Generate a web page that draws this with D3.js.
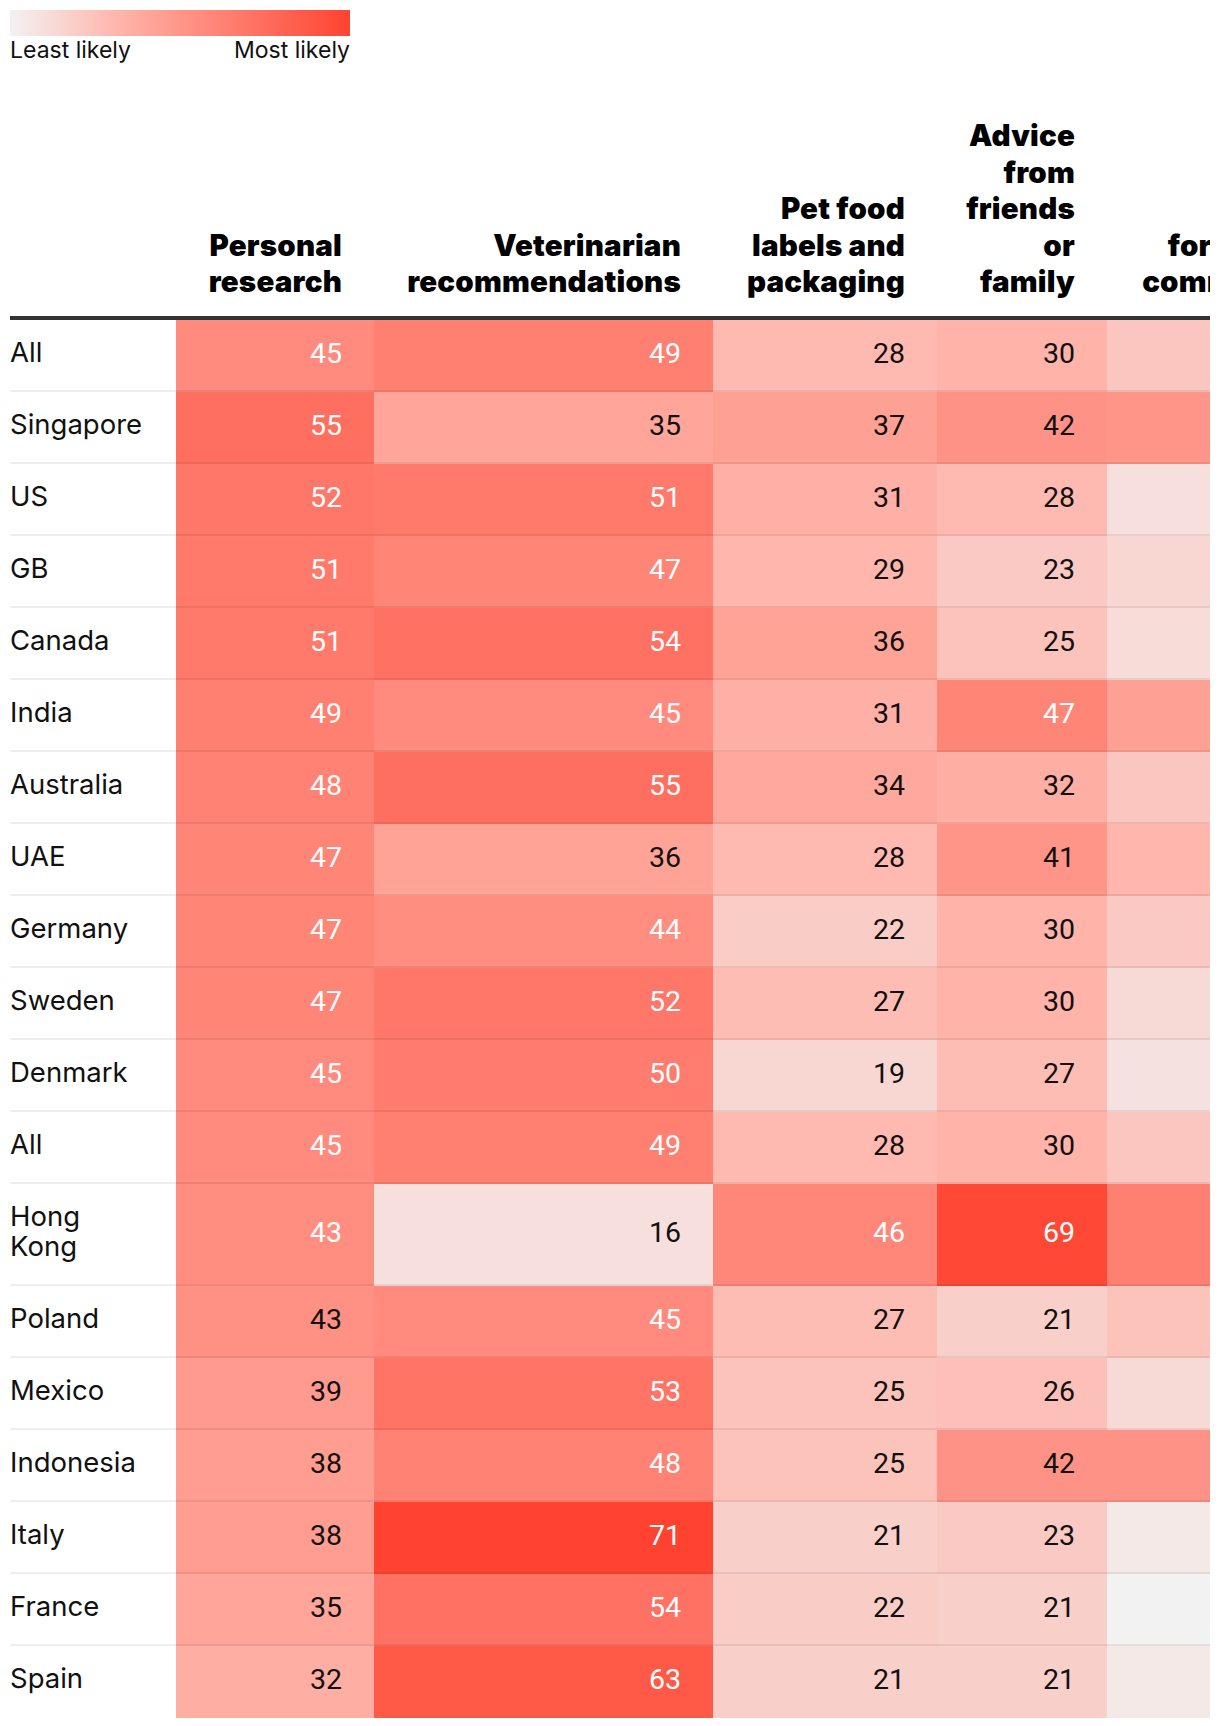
<!DOCTYPE html>
<html>
<head>
<meta charset="utf-8">
<script src="https://cdn.jsdelivr.net/npm/d3@7"></script>
<style>
  body { margin: 0; background: #fff; }
  svg { display: block; }
</style>
</head>
<body>
<div id="chart"></div>
<script>
// Row labels (multi-line where the original wraps)
const countries = [
  ['All'], ['Singapore'], ['US'], ['GB'], ['Canada'], ['India'], ['Australia'],
  ['UAE'], ['Germany'], ['Sweden'], ['Denmark'], ['All'], ['Hong', 'Kong'],
  ['Poland'], ['Mexico'], ['Indonesia'], ['Italy'], ['France'], ['Spain']
];

// Column headers, one entry per line
const headers = [
  ['Personal', 'research'],
  ['Veterinarian', 'recommendations'],
  ['Pet food', 'labels and', 'packaging'],
  ['Advice', 'from', 'friends', 'or', 'family'],
  ['Online', 'pet', 'owner', 'forums and', 'communities']
];

// Values per column (share %)
const personalResearch = [45, 55, 52, 51, 51, 49, 48, 47, 47, 47, 45, 45, 43.4, 42.6, 39, 38, 38, 35, 32];
const vetRecommendations = [49, 35, 51, 47, 54, 45, 55, 36, 44, 52, 50, 49, 16, 45, 53, 48, 71, 54, 63];
const petFoodLabels = [28, 37, 31, 29, 36, 31, 34, 28, 22, 27, 19, 28, 46, 27, 25, 25, 21, 22, 21];
const friendsAdvice = [30, 42, 28, 23, 25, 47, 32, 41, 30, 30, 27, 30, 69, 21, 26, 42, 23, 21, 21];
const onlineForums = [24, 41, 16, 19, 17, 37, 24, 29, 23, 18, 15, 24, 49, 25, 18, 42, 13, 10, 13];

const series = [personalResearch, vetRecommendations, petFoodLabels, friendsAdvice, onlineForums];

const legendLabels = ['Least likely', 'Most likely'];

// ---- layout ----
const width = 1220, height = 1726;
const clipRight = 1210;
const tableLeft = 10;
const headerBottom = 320;     // bottom of thick rule
const lineH = 30;
const colEdges = [176, 374, 713, 937, 1107, 1371];
const padRight = 32;

const svg = d3.select('#chart').append('svg')
  .attr('width', width)
  .attr('height', height);

// colour scale
const color = d3.scaleLinear()
  .domain([10, 30, 71])
  .range(['#f2f2f2', '#ffb3a9', '#ff4330'])
  .clamp(true);

// ---- legend ----
const defs = svg.append('defs');
const grad = defs.append('linearGradient').attr('id', 'legend-grad');
const [lo, hi] = [color.domain()[0], color.domain()[2]];
d3.range(0, 1.0001, 0.1).forEach(t => {
  grad.append('stop')
    .attr('offset', t)
    .attr('stop-color', color(lo + t * (hi - lo)));
});

const legendX = d3.scaleLinear().domain([lo, hi]).range([10, 350]);
svg.append('rect')
  .attr('x', legendX(lo))
  .attr('y', 10)
  .attr('width', legendX(hi) - legendX(lo))
  .attr('height', 26)
  .attr('fill', 'url(#legend-grad)');

svg.selectAll('.legend-label')
  .data(legendLabels)
  .join('text')
  .attr('class', 'legend-label')
  .attr('x', (d, i) => i === 0 ? legendX(lo) : legendX(hi))
  .attr('y', 58)
  .attr('text-anchor', (d, i) => i === 0 ? 'start' : 'end')
  .attr('font-family', 'Inter, sans-serif')
  .attr('font-size', '23px')
  .attr('fill', '#111')
  .text(d => d);

// ---- table ----
defs.append('clipPath').attr('id', 'clip')
  .append('rect').attr('x', 0).attr('y', 0).attr('width', clipRight).attr('height', height);

const g = svg.append('g').attr('clip-path', 'url(#clip)');

const colIdx = d3.range(series.length);
const colLeft = d3.scaleOrdinal().domain(colIdx).range(colEdges.slice(0, -1));
const colRight = d3.scaleOrdinal().domain(colIdx).range(colEdges.slice(1));

const rowIdx = d3.range(countries.length);
const rowHeights = countries.map(c => 42 + lineH * c.length);
const rowTops = rowHeights.reduce((acc, h, i) => {
  acc.push(i === 0 ? headerBottom : acc[i - 1] + rowHeights[i - 1]);
  return acc;
}, []);
const rowY = d3.scaleOrdinal().domain(rowIdx).range(rowTops);
const rowH = d3.scaleOrdinal().domain(rowIdx).range(rowHeights);

// headers
const headerG = g.append('g').attr('class', 'headers');
headers.forEach((lines, c) => {
  headerG.append('text')
    .attr('text-anchor', 'end')
    .attr('font-family', 'Inter, sans-serif')
    .attr('font-weight', 900)
    .attr('font-size', '29.5px')
    .attr('letter-spacing', '0.2px')
    .attr('fill', '#000')
    .selectAll('tspan')
    .data(lines)
    .join('tspan')
    .attr('x', colRight(c) - padRight)
    .attr('y', (d, i) => 292 - (lines.length - 1 - i) * 36.4)
    .text(d => d);
});

// thick rule
g.append('rect')
  .attr('x', tableLeft)
  .attr('y', headerBottom - 4)
  .attr('width', clipRight - tableLeft)
  .attr('height', 4)
  .attr('fill', '#333');

// cells
const cells = [];
series.forEach((vals, c) => vals.forEach((v, r) => cells.push({ c, r, v })));

g.append('g').attr('class', 'cells')
  .selectAll('rect')
  .data(cells)
  .join('rect')
  .attr('x', d => colLeft(d.c))
  .attr('y', d => rowY(d.r))
  .attr('width', d => colRight(d.c) - colLeft(d.c))
  .attr('height', d => rowH(d.r))
  .attr('fill', d => color(d.v));

g.append('g').attr('class', 'values')
  .selectAll('text')
  .data(cells)
  .join('text')
  .attr('x', d => colRight(d.c) - padRight)
  .attr('y', d => rowY(d.r) + rowH(d.r) / 2 + 7)
  .attr('text-anchor', 'end')
  .attr('font-family', 'Roboto, sans-serif')
  .attr('font-size', '28.5px')
  .attr('fill', d => d.v >= 43 ? '#fff' : '#111')
  .text(d => Math.round(d.v));

// row labels
const labelG = g.append('g').attr('class', 'row-labels');
countries.forEach((lines, r) => {
  labelG.append('text')
    .attr('font-family', 'Inter, sans-serif')
    .attr('font-size', '27.5px')
    .attr('fill', '#111')
    .selectAll('tspan')
    .data(lines)
    .join('tspan')
    .attr('x', tableLeft)
    .attr('y', (d, i) => rowY(r) + 42 + i * lineH)
    .text(d => d);
});

// row separators
g.append('g').attr('class', 'separators')
  .selectAll('rect')
  .data(rowIdx.slice(0, -1))
  .join('rect')
  .attr('x', tableLeft)
  .attr('y', r => rowY(r) + rowH(r) - 2)
  .attr('width', clipRight - tableLeft)
  .attr('height', 2)
  .attr('fill', 'rgba(0,0,0,0.065)');
</script>
</body>
</html>
